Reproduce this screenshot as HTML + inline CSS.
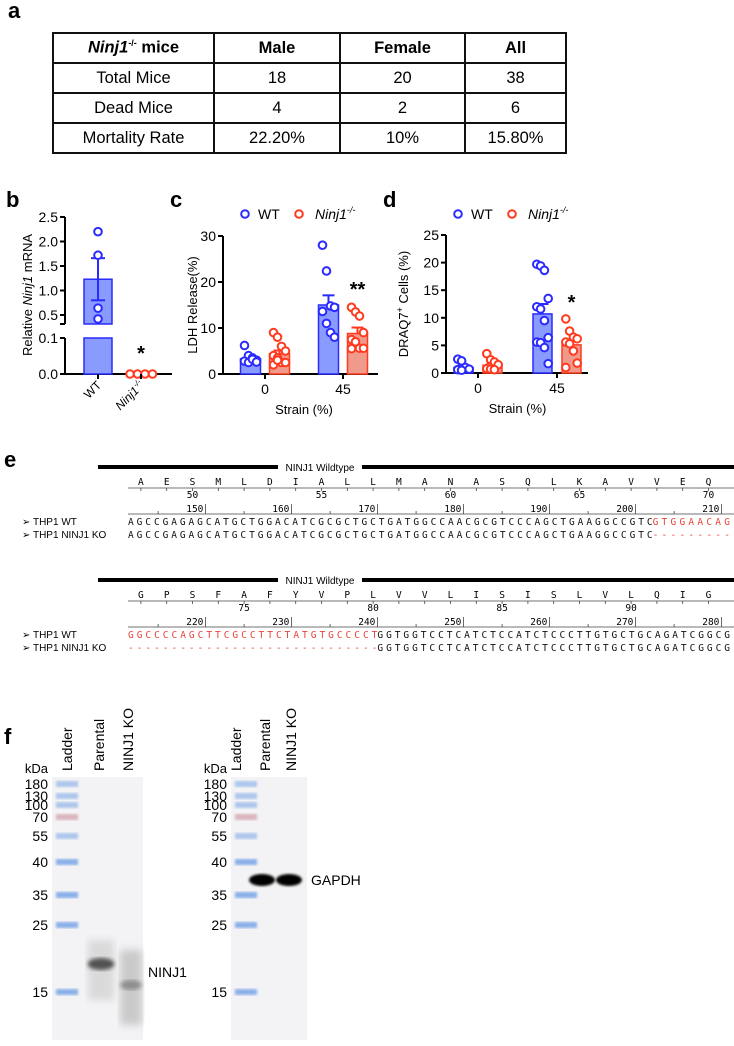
<!DOCTYPE html>
<html><head><meta charset="utf-8">
<style>
html,body{margin:0;padding:0;background:#fff;}
body{width:734px;height:1046px;position:relative;overflow:hidden;font-family:"Liberation Sans",Arial,sans-serif;}
#tbl{position:absolute;left:52px;top:32px;border-collapse:collapse;font-size:16.5px;}
#tbl td{border:2px solid #111;text-align:center;padding:0;height:28px;}
svg{position:absolute;left:0;top:0;}
</style></head>
<body>
<table id="tbl">
<tr><td style="width:159px;font-weight:bold"><i>Ninj1</i><sup style="font-size:9px">-/-</sup> mice</td><td style="width:124px;font-weight:bold">Male</td><td style="width:123px;font-weight:bold">Female</td><td style="width:99px;font-weight:bold">All</td></tr>
<tr><td>Total Mice</td><td>18</td><td>20</td><td>38</td></tr>
<tr><td>Dead Mice</td><td>4</td><td>2</td><td>6</td></tr>
<tr><td>Mortality Rate</td><td>22.20%</td><td>10%</td><td>15.80%</td></tr>
</table>
<svg id="fig" width="734" height="1046" xmlns="http://www.w3.org/2000/svg" font-family="Liberation Sans, Arial, sans-serif">
<defs>
<filter id="blur2"><feGaussianBlur stdDeviation="2"/></filter>
<filter id="blur1"><feGaussianBlur stdDeviation="1.3"/></filter>
<filter id="blur4"><feGaussianBlur stdDeviation="4"/></filter>
</defs>
<text x="8" y="18" font-size="22" font-weight="bold">a</text>
<text x="6" y="207" font-size="22" font-weight="bold">b</text>
<text x="170" y="207" font-size="22" font-weight="bold">c</text>
<text x="383" y="207" font-size="22" font-weight="bold">d</text>
<text x="4" y="467" font-size="22" font-weight="bold">e</text>
<text x="4" y="744" font-size="22" font-weight="bold">f</text>
<g id="charts"></g>
<g id="seq"></g>
<g id="blots"></g>
</svg>
<script>
const NS='http://www.w3.org/2000/svg';
function mk(parent,tag,attrs,text){const e=document.createElementNS(NS,tag);for(const k in attrs)e.setAttribute(k,attrs[k]);if(text!==undefined)e.textContent=text;parent.appendChild(e);return e;}
const BLUE='#2b2bff',BLUEF='#8a9bff',RED='#ff3a1e',REDF='#f09a8c';

// ---------- Panel b data ----------
const bGroups=['WT','Ninj1-/-'];
const bMeans=[1.23,0.005];
const bErr=[0.43,0];
const bPoints=[[2.2,1.72,0.64,0.42],[0,0,0,0]];
const bTicksLow=[0.0,0.1];
const bTicksHigh=[0.5,1.0,1.5,2.0,2.5];

// ---------- Panel c data ----------
const cCats=['0','45'];
const cMeansWT=[3.3,15.0];
const cMeansKO=[4.4,8.8];
const cErrWT=[0.4,2.1];
const cErrKO=[0.7,1.3];
const cPtsWT=[[6.2,4.0,3.5,3.0,2.8,2.5,3.2,2.6],[28.0,22.4,14.8,14.5,13.6,11.0,9.0,8.0]];
const cPtsKO=[[9.0,8.0,6.0,5.0,4.0,3.5,2.5,2.5,2.0,3.0],[14.5,13.5,12.6,9.0,7.5,7.0,5.6,5.6,5.5]];
const cTicks=[0,10,20,30];

// ---------- Panel d data ----------
const dCats=['0','45'];
const dMeansWT=[1.0,10.7];
const dMeansKO=[1.4,5.1];
const dErrWT=[0.4,1.8];
const dErrKO=[0.4,0.9];
const dPtsWT=[[2.5,2.2,1.0,0.7,0.6,0.5],[19.7,19.4,18.6,13.5,12.0,11.6,9.5,6.4,5.6,5.5,4.6,1.7]];
const dPtsKO=[[3.5,2.4,2.0,1.5,0.8,0.7,0.6],[9.8,7.6,6.5,6.2,5.6,5.3,4.0,1.8,1.0]];
const dTicks=[0,5,10,15,20,25];

const G=document.getElementById('charts');

function circle(g,x,y,col,name){const c=mk(g,'circle',{cx:x,cy:y,r:3.8,fill:'#fff',stroke:col,'stroke-width':2});

}

// ---- panel b ----
(function(){
  const g=mk(G,'g',{});
  
  
  const ax=65, y0=374;
  const yLow=v=>374-v/0.1*36;
  const yHigh=v=>315-(v-0.5)*49;
  const yv=v=>v<=0.2?yLow(v):yHigh(v);
  const xc=[98,141];
  mk(g,'line',{x1:ax,y1:y0,x2:172,y2:y0,stroke:'#000','stroke-width':2});
  mk(g,'line',{x1:ax,y1:yLow(0),x2:ax,y2:338,stroke:'#000','stroke-width':2});
  mk(g,'line',{x1:ax,y1:324,x2:ax,y2:yHigh(2.5),stroke:'#000','stroke-width':2});
  mk(g,'line',{x1:ax-5,y1:338,x2:ax,y2:338,stroke:'#000','stroke-width':2});
  mk(g,'line',{x1:ax-5,y1:324,x2:ax,y2:324,stroke:'#000','stroke-width':2});
  bTicksLow.forEach(t=>{mk(g,'line',{x1:ax-5,y1:yLow(t),x2:ax,y2:yLow(t),stroke:'#000','stroke-width':2});
    const l=mk(g,'text',{x:ax-7,y:yLow(t)+5,'font-size':14,'text-anchor':'end'},t.toFixed(1));
    
    });
  bTicksHigh.forEach(t=>{mk(g,'line',{x1:ax-5,y1:yHigh(t),x2:ax,y2:yHigh(t),stroke:'#000','stroke-width':2});
    const l=mk(g,'text',{x:ax-7,y:yHigh(t)+5,'font-size':14,'text-anchor':'end'},t.toFixed(1));
    
    });
  const top=yv(bMeans[0]);
  const b1=mk(g,'rect',{x:xc[0]-14,y:top,width:28,height:324-top,fill:BLUEF,stroke:BLUE,'stroke-width':1.5});
  
  
  mk(g,'rect',{x:xc[0]-14,y:338,width:28,height:y0-338,fill:BLUEF,stroke:BLUE,'stroke-width':1.5});
  const b2=mk(g,'rect',{x:xc[1]-14,y:yv(bMeans[1]),width:28,height:Math.max(0.5,y0-yv(bMeans[1])),fill:REDF,stroke:RED,'stroke-width':1.5});
  
  
  const eh=yv(bMeans[0]+bErr[0]), el=yv(bMeans[0]-bErr[0]);
  mk(g,'line',{x1:xc[0],y1:eh,x2:xc[0],y2:el,stroke:BLUE,'stroke-width':2});
  mk(g,'line',{x1:xc[0]-7,y1:eh,x2:xc[0]+7,y2:eh,stroke:BLUE,'stroke-width':2});
  mk(g,'line',{x1:xc[0]-7,y1:el,x2:xc[0]+7,y2:el,stroke:BLUE,'stroke-width':2});
  bPoints[0].forEach(v=>circle(g,xc[0],yv(v),BLUE,'point-b-wt'));
  bPoints[1].forEach((v,i)=>circle(g,xc[1]-11+i*7.5,yv(v),RED,'point-b-ko'));
  mk(g,'text',{x:xc[1],y:360,'font-size':20,'text-anchor':'middle','font-weight':'bold'},'*');
  [xc[0],xc[1]].forEach(x=>mk(g,'line',{x1:x,y1:y0,x2:x,y2:y0+5,stroke:'#000','stroke-width':2}));
  const t1=mk(g,'text',{x:0,y:0,'font-size':12,'text-anchor':'end',transform:`translate(${xc[0]+4},${y0+12}) rotate(-45)`},'WT');
  
  
  const t2=mk(g,'text',{x:0,y:0,'font-size':12,'text-anchor':'end','font-style':'italic',transform:`translate(${xc[1]+4},${y0+12}) rotate(-45)`});
  t2.innerHTML='Ninj1<tspan font-size="8" dy="-5">-/-</tspan>';
  
  
  const yt=mk(g,'text',{x:0,y:0,'font-size':13,'text-anchor':'middle',transform:'translate(32,295) rotate(-90)'});
  yt.innerHTML='Relative <tspan font-style="italic">Ninj1</tspan> mRNA';
  
  
})();

function groupedChart(cfg){
  const g=mk(G,'g',{});
  
  
  const {ax,y0,yTop,vmax,xEnd,cx}=cfg;
  const y=v=>y0-v/vmax*(y0-yTop);
  mk(g,'line',{x1:ax,y1:y0,x2:xEnd,y2:y0,stroke:'#000','stroke-width':2});
  mk(g,'line',{x1:ax,y1:y0,x2:ax,y2:yTop,stroke:'#000','stroke-width':2});
  cfg.ticks.forEach(t=>{mk(g,'line',{x1:ax-5,y1:y(t),x2:ax,y2:y(t),stroke:'#000','stroke-width':2});
    const l=mk(g,'text',{x:ax-7,y:y(t)+5,'font-size':14,'text-anchor':'end'},String(t));
    
    });
  cfg.cats.forEach((c,i)=>{mk(g,'line',{x1:cx[i],y1:y0,x2:cx[i],y2:y0+5,stroke:'#000','stroke-width':2});
    const l=mk(g,'text',{x:cx[i],y:y0+20,'font-size':14,'text-anchor':'middle'},c);
    
    });
  const bw=cfg.bw, off=cfg.off;
  function series(means,errs,pts,col,fill,sign,nm){
    means.forEach((m,i)=>{
      const x=cx[i]+sign*off;
      const r=mk(g,'rect',{x:x-bw/2,y:y(m),width:bw,height:y0-y(m),fill:fill,stroke:col,'stroke-width':1.5});
      
      
      const eh=y(m+errs[i]);
      mk(g,'line',{x1:x,y1:y(m),x2:x,y2:eh,stroke:col,'stroke-width':2});
      mk(g,'line',{x1:x-6,y1:eh,x2:x+6,y2:eh,stroke:col,'stroke-width':2});
      pts[i].forEach((v,j)=>{const jit=((j%4)-1.5)*(bw/5);circle(g,x+jit,y(v),col,'point-'+nm);});
    });
  }
  series(cfg.mWT,cfg.eWT,cfg.pWT,BLUE,BLUEF,-1,'wt');
  series(cfg.mKO,cfg.eKO,cfg.pKO,RED,REDF,1,'ko');
  const ko1=cx[1]+off;
  mk(g,'text',{x:ko1,y:cfg.starY,'font-size':20,'text-anchor':'middle','font-weight':'bold'},cfg.star);
  const L=mk(g,'g',{});
  
  
  circle(L,cfg.lx,214,BLUE,'legend-marker-wt');
  mk(L,'text',{x:cfg.lx+13,y:219,'font-size':14},'WT');
  circle(L,cfg.lx+54,214,RED,'legend-marker-ko');
  const lk=mk(L,'text',{x:cfg.lx+70,y:219,'font-size':14,'font-style':'italic'});
  lk.innerHTML='Ninj1<tspan font-size="9" dy="-6">-/-</tspan>';
  const xt=mk(g,'text',{x:(cx[0]+cx[1])/2,y:y0+40,'font-size':13,'text-anchor':'middle'},'Strain (%)');
  
  
  const yt=mk(g,'text',{x:0,y:0,'font-size':13,'text-anchor':'middle',transform:`translate(${cfg.ytx},${(y0+yTop)/2}) rotate(-90)`});
  yt.innerHTML=cfg.ytitle;
  
  
}
groupedChart({name:'chart-c',ax:223,y0:374,yTop:236,vmax:30,xEnd:378,cx:[265,343],bw:20,off:14.5,
  ticks:cTicks,cats:cCats,mWT:cMeansWT,mKO:cMeansKO,eWT:cErrWT,eKO:cErrKO,pWT:cPtsWT,pKO:cPtsKO,
  star:'**',starY:296,lx:245,ytx:197,ytitle:'LDH Release(%)'});
groupedChart({name:'chart-d',ax:446,y0:373,yTop:235,vmax:25,xEnd:588,cx:[478,557],bw:19,off:14.5,
  ticks:dTicks,cats:dCats,mWT:dMeansWT,mKO:dMeansKO,eWT:dErrWT,eKO:dErrKO,pWT:dPtsWT,pKO:dPtsKO,
  star:'*',starY:309,lx:458,ytx:408,ytitle:'DRAQ7<tspan font-size="9" dy="-5">+</tspan><tspan dy="5"> Cells (%)</tspan>'});

// ---------- Panel e: sequences ----------
const S=document.getElementById('seq');
const x0=128, pitch=(730-128)/70;
const blocks=[
 {top:467,aa:'AESMLDIALLMANASQLKAVVEQ',aaStart:48,ntStart:142,
  wt:[['AGCCGAGAGCATGCTGGACATCGCGCTGCTGATGGCCAACGCGTCCCAGCTGAAGGCCGTC','#111'],['GTGGAACAG','#e8453a']],
  ko:[['AGCCGAGAGCATGCTGGACATCGCGCTGCTGATGGCCAACGCGTCCCAGCTGAAGGCCGTC','#111'],['---------','#e8453a']]},
 {top:580,aa:'GPSFAFYVPLVVLISISLVLQIG',aaStart:71,ntStart:212,
  wt:[['GGCCCCAGCTTCGCCTTCTATGTGCCCCT','#e8453a'],['GGTGGTCCTCATCTCCATCTCCCTTGTGCTGCAGATCGGCG','#111']],
  ko:[['-----------------------------','#e8453a'],['GGTGGTCCTCATCTCCATCTCCCTTGTGCTGCAGATCGGCG','#111']]}
];
blocks.forEach((b,bi)=>{
  const g=mk(S,'g',{'font-family':'DejaVu Sans Mono, Liberation Mono, monospace'});
  
  
  const t=b.top;
  mk(g,'rect',{x:98,y:t-2,width:180,height:4,fill:'#000'});
  mk(g,'rect',{x:362,y:t-2,width:372,height:4,fill:'#000'});
  mk(g,'text',{x:320,y:t+4,'font-size':10,'text-anchor':'middle','font-family':'Liberation Sans, sans-serif'},'NINJ1 Wildtype');
  for(let i=0;i<23;i++){
    const cx=x0+(3*i+1.5)*pitch;
    mk(g,'text',{x:cx,y:t+18,'font-size':9.5,'text-anchor':'middle'},b.aa[i]);
    mk(g,'line',{x1:cx,y1:t+21,x2:cx,y2:t+24,stroke:'#444','stroke-width':0.8});
    if((b.aaStart+i)%5===0)mk(g,'text',{x:cx,y:t+31,'font-size':9.5,'text-anchor':'middle'},String(b.aaStart+i));
  }
  mk(g,'line',{x1:x0,y1:t+21,x2:734,y2:t+21,stroke:'#444','stroke-width':0.8});
  mk(g,'line',{x1:x0,y1:t+47,x2:734,y2:t+47,stroke:'#444','stroke-width':0.8});
  for(let k=0;k<70;k++){
    const n=b.ntStart+k;
    if(n%10===0){const xr=x0+(k+1)*pitch;
      mk(g,'line',{x1:xr,y1:t+37,x2:xr,y2:t+47,stroke:'#444','stroke-width':0.8});
      mk(g,'text',{x:xr-2,y:t+45,'font-size':9.5,'text-anchor':'end'},String(n));}
    else if(n%10===5){const xr=x0+(k+0.5)*pitch;mk(g,'line',{x1:xr,y1:t+44,x2:xr,y2:t+47,stroke:'#444','stroke-width':0.8});}
  }
  [[b.wt,t+58,'THP1 WT'],[b.ko,t+71,'THP1 NINJ1 KO']].forEach(([parts,yy,lab])=>{
    const l=mk(g,'text',{x:22,y:yy,'font-size':10,'font-family':'Liberation Sans, sans-serif'},'➢ '+lab);
    
    
    let k=0;
    parts.forEach(([s,c])=>{
      const tx=mk(g,'text',{x:x0+k*pitch,y:yy,'font-size':9.5,fill:c,textLength:s.length*pitch,lengthAdjust:'spacing'},s);
      
      
      k+=s.length;});
  });
});

// ---------- Panel f: blots ----------
const B=document.getElementById('blots');
const kda=[180,130,100,70,55,40,35,25,15];
const kdaY=[784,796,805,817,836,862,895,925,992];
function blot(bx,bw,lx,lanes,name){
  const g=mk(B,'g',{});
  
  
  mk(g,'rect',{x:bx,y:777,width:bw,height:263,fill:'#f3f3f5'});
  mk(g,'text',{x:lx,y:773,'font-size':13,'text-anchor':'end'},'kDa');
  kda.forEach((k,i)=>{
    const l=mk(g,'text',{x:lx,y:kdaY[i]+5,'font-size':14,'text-anchor':'end'},String(k));
    
    
    const col=(k===70)?'#c98a9a':'#7fa8e6';
    mk(g,'rect',{x:bx+4,y:kdaY[i]-3,width:22,height:6,fill:col,filter:'url(#blur1)',opacity:(k===15||k===25||k===40||k===35)?0.9:0.6});
  });
  lanes.forEach(([x,t])=>{const l=mk(g,'text',{x:0,y:0,'font-size':14,transform:`translate(${x},771) rotate(-90)`},t);
    
    });
  return g;
}
const g1=blot(52,91,48,[[72,'Ladder'],[104,'Parental'],[133,'NINJ1 KO']],'blot-ninj1');
mk(g1,'ellipse',{cx:101,cy:964,rx:13,ry:6,fill:'#222',filter:'url(#blur2)'});
mk(g1,'rect',{x:88,y:940,width:26,height:60,fill:'#aaa',opacity:0.35,filter:'url(#blur4)'});
mk(g1,'rect',{x:120,y:950,width:22,height:75,fill:'#999',opacity:0.45,filter:'url(#blur4)'});
mk(g1,'ellipse',{cx:131,cy:985,rx:11,ry:5,fill:'#666',opacity:0.6,filter:'url(#blur2)'});
mk(g1,'text',{x:148,y:977,'font-size':14},'NINJ1');
const g2=blot(231,76,227,[[241,'Ladder'],[270,'Parental'],[296,'NINJ1 KO']],'blot-gapdh');
mk(g2,'ellipse',{cx:262,cy:880,rx:13,ry:6,fill:'#000',filter:'url(#blur1)'});
mk(g2,'ellipse',{cx:289,cy:880,rx:13,ry:6,fill:'#000',filter:'url(#blur1)'});
mk(g2,'text',{x:311,y:885,'font-size':14},'GAPDH');
</script>
</body></html>
